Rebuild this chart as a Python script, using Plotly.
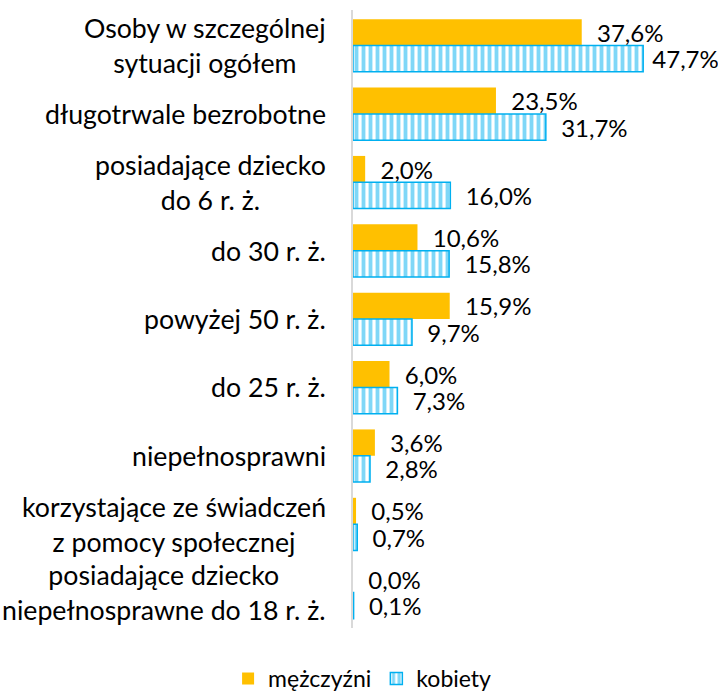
import plotly.graph_objects as go

categories = [
    "Osoby w szczególnej<br>sytuacji ogółem",
    "długotrwale bezrobotne",
    "posiadające dziecko<br>do 6 r. ż.",
    "do 30 r. ż.",
    "powyżej 50 r. ż.",
    "do 25 r. ż.",
    "niepełnosprawni",
    "korzystające ze świadczeń<br>z pomocy społecznej",
    "posiadające dziecko<br>niepełnosprawne do 18 r. ż.",
]
men = [37.6, 23.5, 2.0, 10.6, 15.9, 6.0, 3.6, 0.5, 0.0]
women = [47.7, 31.7, 16.0, 15.8, 9.7, 7.3, 2.8, 0.7, 0.1]
series_names = ["mężczyźni", "kobiety"]

FONT = "Lato"


def templates(vals):
    # labels near the right edge get a smaller gap (as in the original)
    return [("\u00a0" if v > 45 else "\u00a0\u00a0") + "%{x:.1f}%" for v in vals]


fig = go.Figure()
fig.add_trace(go.Bar(
    y=categories, x=men, name=series_names[0], orientation="h",
    marker=dict(color="#FFC000", line=dict(width=0)),
    texttemplate=templates(men), textposition="outside",
    constraintext="none",
    textfont=dict(family=FONT, size=24, color="#000000"),
    cliponaxis=False,
))
fig.add_trace(go.Bar(
    y=categories, x=women, name=series_names[1], orientation="h",
    marker=dict(color="white", line=dict(color="#00B0F0", width=1.5),
                pattern=dict(shape="|", fgcolor="#00B0F0", bgcolor="white",
                             size=7, solidity=0.55)),
    texttemplate=templates(women), textposition="outside",
    constraintext="none",
    textfont=dict(family=FONT, size=24, color="#000000"),
    cliponaxis=False,
))

annotations = [
    dict(text=c, x=0, y=c, xref="paper", yref="y", xanchor="right",
         yanchor="middle", xshift=-25, align="center", showarrow=False,
         font=dict(family=FONT, size=26.7, color="#000000"))
    for c in categories
]

fig.update_layout(
    width=718, height=691,
    margin=dict(l=353, r=0, t=10, b=63),
    paper_bgcolor="white", plot_bgcolor="white",
    barmode="group", bargap=0.23, bargroupgap=0,
    separators=",.",
    showlegend=True,
    legend=dict(orientation="h", xref="container", yref="container",
                x=0.505, xanchor="center", y=0.018, yanchor="middle",
                font=dict(family=FONT, size=23, color="#000000"),
                itemwidth=30, traceorder="normal"),
    annotations=annotations,
    font=dict(family=FONT, color="#000000"),
)
fig.update_xaxes(range=[0, 60], showgrid=False, zeroline=False,
                 showticklabels=False, showline=False, ticks="")
fig.update_yaxes(autorange="reversed", showticklabels=False, ticks="",
                 showgrid=False, showline=True, linecolor="#D9D9D9",
                 linewidth=2)

fig.write_html("out.html", config={"displayModeBar": False},
               post_script="document.body.style.margin='0';document.body.style.overflow='hidden';")
